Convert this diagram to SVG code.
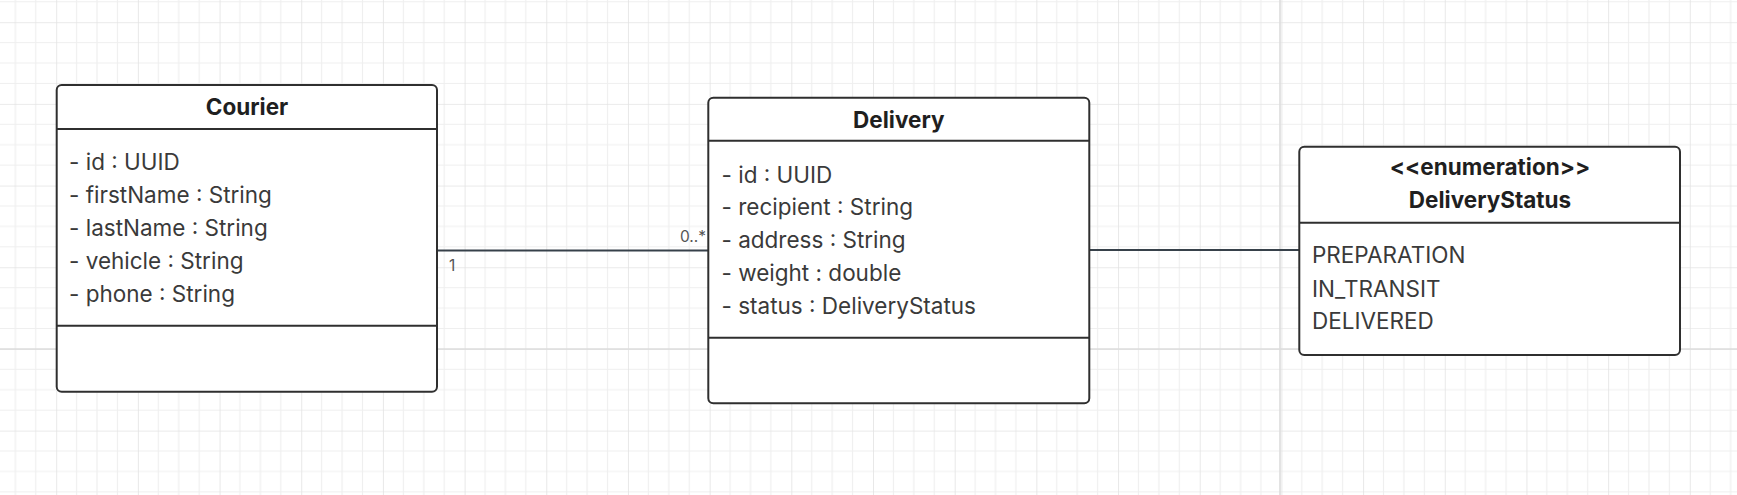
<svg xmlns="http://www.w3.org/2000/svg" width="1737" height="495" viewBox="0 0 1737 495">
  <defs>
    <pattern id="grid" patternUnits="userSpaceOnUse" x="56.2" y="22.2" width="81.68" height="81.68">
      <path d="M20.42 0V81.68M40.84 0V81.68M61.26 0V81.68M0 20.42H81.68M0 40.84H81.68M0 61.26H81.68" stroke="#efefef" stroke-width="1.2" fill="none"/>
      <path d="M0 0V81.68M0 0H81.68" stroke="#e3e3e3" stroke-width="1.6" fill="none"/>
    </pattern>
    <style>
      .box { fill: #ffffff; stroke: #2f2f2f; stroke-width: 2; }
      .div { stroke: #2f2f2f; stroke-width: 2; fill: none; }
      .title { font-family: Inter, "Liberation Sans", sans-serif; font-size: 22.5px; font-weight: 700; fill: #1f1f1f; text-anchor: middle; }
      .attr { font-family: Inter, "Liberation Sans", sans-serif; font-size: 22.5px; fill: #3a3a3a; }
      .mult { font-family: Inter, "Liberation Sans", sans-serif; font-size: 15.5px; fill: #555555; }
      .conn { stroke: #37414a; stroke-width: 2; fill: none; }
    </style>
  </defs>
  <rect width="1737" height="495" fill="#ffffff"/>
  <rect width="1737" height="495" fill="url(#grid)"/>
  <line x1="1280" y1="0" x2="1280" y2="495" stroke="#dcdcdc" stroke-width="1.6"/>
  <line x1="0" y1="349" x2="1737" y2="349" stroke="#dcdcdc" stroke-width="1.6"/>

  <g id="connectors">
    <line class="conn" x1="437" y1="250.5" x2="708" y2="250.5"/>
    <text class="mult" x="706" y="242" text-anchor="end">0..*</text>
    <text class="mult" x="449" y="271">1</text>
    <line class="conn" x1="1089" y1="250" x2="1299" y2="250"/>
  </g>

  <g id="courier">
    <rect class="box" x="56.7" y="85" width="380.3" height="306.7" rx="5"/>
    <line class="div" x1="56.7" y1="129" x2="437" y2="129"/>
    <line class="div" x1="56.7" y1="325.7" x2="437" y2="325.7"/>
    <text class="title" x="247" y="115">Courier</text>
    <text class="attr" x="69" y="170">- id : UUID</text>
    <text class="attr" x="69" y="203">- firstName : String</text>
    <text class="attr" x="69" y="236">- lastName : String</text>
    <text class="attr" x="69" y="269">- vehicle : String</text>
    <text class="attr" x="69" y="302">- phone : String</text>
  </g>

  <g id="delivery">
    <rect class="box" x="708.3" y="97.7" width="381" height="305.6" rx="5"/>
    <line class="div" x1="708.3" y1="140.7" x2="1089.3" y2="140.7"/>
    <line class="div" x1="708.3" y1="337.7" x2="1089.3" y2="337.7"/>
    <text class="title" x="898.8" y="127.5">Delivery</text>
    <text class="attr" x="721.5" y="182.5">- id : UUID</text>
    <text class="attr" x="721.5" y="215.3">- recipient : String</text>
    <text class="attr" x="721.5" y="248">- address : String</text>
    <text class="attr" x="721.5" y="281">- weight : double</text>
    <text class="attr" x="721.5" y="313.6">- status : DeliveryStatus</text>
  </g>

  <g id="deliverystatus">
    <rect class="box" x="1299.3" y="146.7" width="380.7" height="208.3" rx="5"/>
    <line class="div" x1="1299.3" y1="222.7" x2="1680" y2="222.7"/>
    <text class="title" x="1490" y="175">&lt;&lt;enumeration&gt;&gt;</text>
    <text class="title" x="1490" y="208.3">DeliveryStatus</text>
    <text class="attr" x="1312" y="263.3">PREPARATION</text>
    <text class="attr" x="1312" y="297.3">IN_TRANSIT</text>
    <text class="attr" x="1312" y="329.3">DELIVERED</text>
  </g>
</svg>
